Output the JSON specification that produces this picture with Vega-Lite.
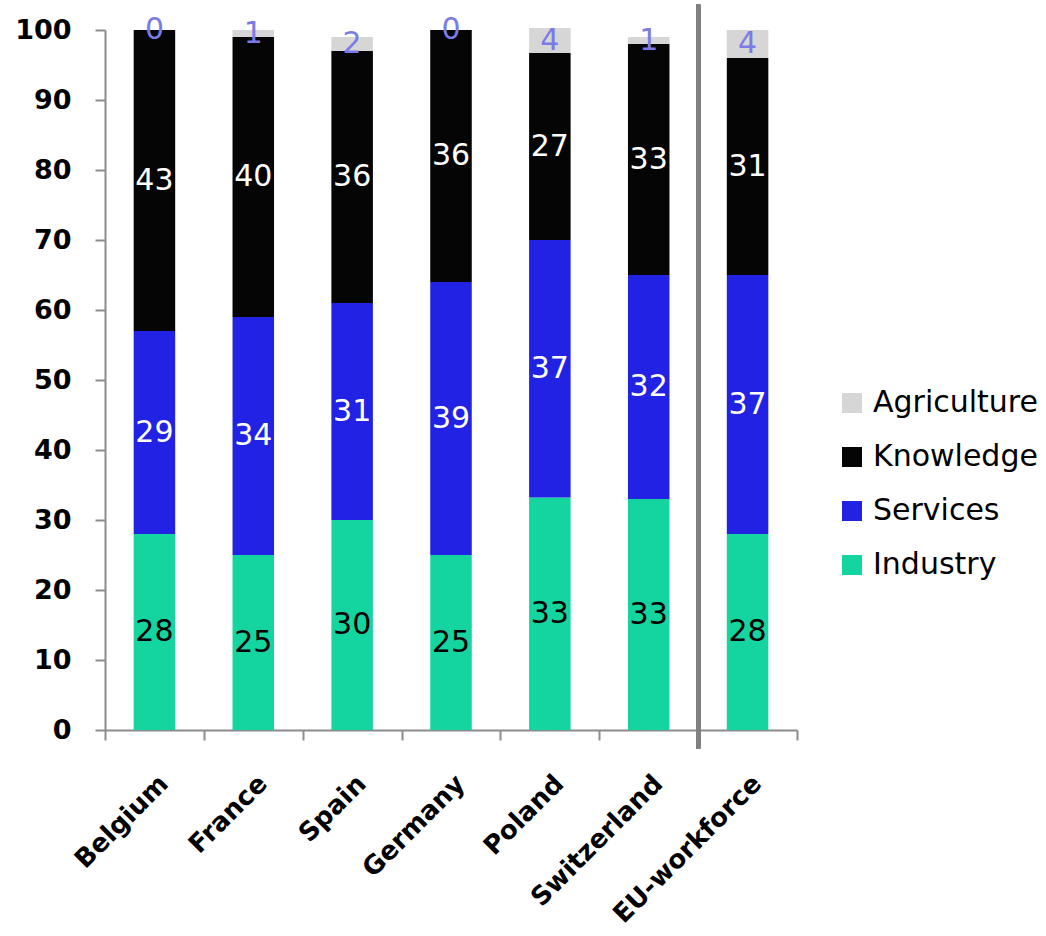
{
  "$schema": "https://vega.github.io/schema/vega-lite/v6.json",
  "autosize": "none",
  "width": 692,
  "height": 700,
  "padding": {"left": 105, "top": 30, "right": 249, "bottom": 206},
  "background": "white",
  "config": {
    "font": "DejaVu Sans",
    "view": {"stroke": null},
    "axis": {"grid": false}
  },
  "data": {
    "values": [
      {"country": "Belgium", "sector": "Industry", "value": 28},
      {"country": "Belgium", "sector": "Services", "value": 29},
      {"country": "Belgium", "sector": "Knowledge", "value": 43},
      {"country": "Belgium", "sector": "Agriculture", "value": 0},
      {"country": "France", "sector": "Industry", "value": 25},
      {"country": "France", "sector": "Services", "value": 34},
      {"country": "France", "sector": "Knowledge", "value": 40},
      {"country": "France", "sector": "Agriculture", "value": 1},
      {"country": "Spain", "sector": "Industry", "value": 30},
      {"country": "Spain", "sector": "Services", "value": 31},
      {"country": "Spain", "sector": "Knowledge", "value": 36},
      {"country": "Spain", "sector": "Agriculture", "value": 2},
      {"country": "Germany", "sector": "Industry", "value": 25},
      {"country": "Germany", "sector": "Services", "value": 39},
      {"country": "Germany", "sector": "Knowledge", "value": 36},
      {"country": "Germany", "sector": "Agriculture", "value": 0},
      {"country": "Poland", "sector": "Industry", "value": 33.2},
      {"country": "Poland", "sector": "Services", "value": 36.8},
      {"country": "Poland", "sector": "Knowledge", "value": 26.7},
      {"country": "Poland", "sector": "Agriculture", "value": 3.6},
      {"country": "Switzerland", "sector": "Industry", "value": 33},
      {"country": "Switzerland", "sector": "Services", "value": 32},
      {"country": "Switzerland", "sector": "Knowledge", "value": 33},
      {"country": "Switzerland", "sector": "Agriculture", "value": 1},
      {"country": "EU-workforce", "sector": "Industry", "value": 28},
      {"country": "EU-workforce", "sector": "Services", "value": 37},
      {"country": "EU-workforce", "sector": "Knowledge", "value": 31},
      {"country": "EU-workforce", "sector": "Agriculture", "value": 4}
    ]
  },
  "transform": [
    {"calculate": "indexof(['Industry', 'Services', 'Knowledge', 'Agriculture'], datum.sector)", "as": "stackOrder"}
  ],
  "encoding": {
    "x": {
      "field": "country",
      "type": "nominal",
      "sort": ["Belgium", "France", "Spain", "Germany", "Poland", "Switzerland", "EU-workforce"],
      "title": null,
      "scale": {"paddingInner": 0, "paddingOuter": 0},
      "axis": {
        "tickBand": "extent",
        "domainColor": "#8c8c8c",
        "domainWidth": 2,
        "tickColor": "#8c8c8c",
        "tickWidth": 2,
        "tickSize": 10,
        "labelAngle": -45,
        "labelFontSize": 26,
        "labelFontWeight": "bold",
        "labelColor": "#000000",
        "labelPadding": 30,
        "labelLimit": 0
      }
    }
  },
  "layer": [
    {
      "mark": {"type": "bar", "width": {"band": 0.42}},
      "encoding": {
        "y": {
          "field": "value",
          "type": "quantitative",
          "stack": "zero",
          "title": null,
          "scale": {"domain": [0, 100], "nice": false},
          "axis": {
            "values": [0, 10, 20, 30, 40, 50, 60, 70, 80, 90, 100],
            "domainColor": "#8c8c8c",
            "domainWidth": 2,
            "tickColor": "#8c8c8c",
            "tickWidth": 2,
            "tickSize": 10,
            "labelFontSize": 27,
            "labelFontWeight": "bold",
            "labelColor": "#000000",
            "labelPadding": 24
          }
        },
        "order": {"field": "stackOrder", "type": "quantitative", "sort": "ascending"},
        "color": {
          "field": "sector",
          "type": "nominal",
          "scale": {
            "domain": ["Agriculture", "Knowledge", "Services", "Industry"],
            "range": ["#d6d6d6", "#050505", "#2222e4", "#14d4a0"]
          },
          "legend": {
            "orient": "none",
            "legendX": 732,
            "legendY": 358,
            "title": null,
            "padding": 0,
            "symbolType": "square",
            "symbolSize": 400,
            "symbolStrokeWidth": 0,
            "labelFontSize": 30,
            "labelLimit": 0,
            "labelColor": "#000000",
            "labelOffset": 6,
            "rowPadding": 24
          }
        }
      }
    },
    {
      "mark": {"type": "text", "fontSize": 30, "baseline": "middle", "align": "center"},
      "encoding": {
        "y": {
          "field": "value",
          "type": "quantitative",
          "stack": "zero",
          "bandPosition": 0.5,
          "scale": {"domain": [0, 100], "nice": false}
        },
        "order": {"field": "stackOrder", "type": "quantitative", "sort": "ascending"},
        "text": {"field": "value", "type": "quantitative", "format": ".0f"},
        "fill": {
          "field": "sector",
          "type": "nominal",
          "scale": {
            "domain": ["Agriculture", "Knowledge", "Services", "Industry"],
            "range": ["#7b7be6", "#ffffff", "#ffffff", "#000000"]
          },
          "legend": null
        }
      }
    },
    {
      "mark": {"type": "rule", "color": "#808080", "strokeWidth": 4},
      "encoding": {
        "x": {"datum": "EU-workforce", "type": "nominal", "bandPosition": 0},
        "y": {"datum": 103.6, "type": "quantitative", "scale": {"domain": [0, 100], "nice": false}},
        "y2": {"datum": -2.6}
      }
    }
  ]
}
